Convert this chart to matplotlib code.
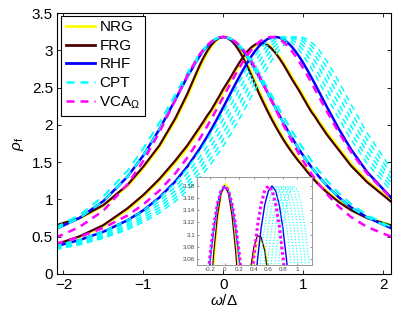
import matplotlib
matplotlib.use("Agg")
import matplotlib.pyplot as plt
from matplotlib.lines import Line2D
import numpy as np

plt.rcParams['font.family'] = ['Liberation Sans', 'DejaVu Sans']
plt.rcParams['mathtext.fontset'] = 'custom'
plt.rcParams['mathtext.rm'] = 'Liberation Sans'
plt.rcParams['mathtext.it'] = 'Liberation Sans:italic'

# ---------------- data ----------------
omega = [-2.1, -1.8, -1.5, -1.2, -1.0, -0.8, -0.6, -0.45, -0.3, -0.25, -0.2, -0.15,
         -0.1, -0.05, 0.0, 0.05, 0.1, 0.15, 0.2, 0.25, 0.3, 0.35, 0.4, 0.45, 0.5,
         0.55, 0.6, 0.65, 0.7, 0.75, 0.8, 0.85, 0.9, 0.95, 1.0, 1.05, 1.1, 1.15,
         1.2, 1.3, 1.45, 1.6, 1.8, 2.1]

nrg_a = [0.644, 0.743, 0.913, 1.177, 1.421, 1.699, 2.058, 2.380, 2.755, 2.867, 2.967, 3.051,
         3.119, 3.164, 3.184, 3.179, 3.149, 3.093, 3.019, 2.927, 2.821, 2.705, 2.581, 2.452,
         2.337, 2.225, 2.118, 2.018, 1.922, 1.832, 1.747, 1.667, 1.593, 1.524, 1.461, 1.393,
         1.327, 1.266, 1.209, 1.106, 0.974, 0.865, 0.757, 0.656]
nrg_b = [0.387, 0.494, 0.643, 0.860, 1.041, 1.250, 1.491, 1.695, 1.929, 2.010, 2.092, 2.171,
         2.256, 2.348, 2.442, 2.531, 2.617, 2.708, 2.798, 2.882, 2.955, 3.017, 3.063, 3.085,
         3.090, 3.080, 3.040, 2.986, 2.918, 2.840, 2.753, 2.661, 2.571, 2.486, 2.395, 2.301,
         2.210, 2.130, 2.050, 1.896, 1.685, 1.478, 1.254, 0.987]
frg_a = [0.650, 0.750, 0.924, 1.193, 1.441, 1.723, 2.088, 2.416, 2.788, 2.897, 2.993, 3.072,
         3.131, 3.168, 3.180, 3.168, 3.131, 3.072, 2.993, 2.897, 2.788, 2.669, 2.544, 2.416,
         2.303, 2.193, 2.088, 1.989, 1.895, 1.806, 1.723, 1.645, 1.572, 1.504, 1.441, 1.373,
         1.309, 1.249, 1.193, 1.092, 0.962, 0.855, 0.750, 0.650]
frg_b = [0.394, 0.504, 0.655, 0.879, 1.060, 1.273, 1.521, 1.724, 1.961, 2.042, 2.126, 2.201,
         2.292, 2.385, 2.480, 2.565, 2.652, 2.745, 2.833, 2.914, 2.983, 3.040, 3.079, 3.098,
         3.096, 3.073, 3.029, 2.970, 2.897, 2.815, 2.725, 2.631, 2.544, 2.459, 2.364, 2.271,
         2.180, 2.106, 2.022, 1.865, 1.657, 1.451, 1.232, 0.970]
rhf_a = [0.600, 0.750, 0.978, 1.303, 1.590, 1.939, 2.338, 2.644, 2.917, 2.993, 3.058, 3.110,
         3.149, 3.172, 3.180, 3.172, 3.149, 3.110, 3.058, 2.993, 2.917, 2.833, 2.741, 2.644,
         2.544, 2.442, 2.338, 2.236, 2.134, 2.035, 1.939, 1.846, 1.757, 1.671, 1.590, 1.512,
         1.439, 1.369, 1.303, 1.182, 1.025, 0.893, 0.760, 0.615]
rhf_b = [0.371, 0.454, 0.566, 0.719, 0.854, 1.025, 1.241, 1.439, 1.671, 1.757, 1.846, 1.939,
         2.035, 2.134, 2.236, 2.338, 2.442, 2.544, 2.644, 2.741, 2.833, 2.917, 2.993, 3.058,
         3.110, 3.149, 3.172, 3.180, 3.172, 3.149, 3.110, 3.058, 2.993, 2.917, 2.833, 2.741,
         2.644, 2.544, 2.442, 2.236, 1.939, 1.671, 1.369, 1.025]
cpt_a1 = [0.600, 0.750, 0.978, 1.303, 1.590, 1.939, 2.338, 2.644, 2.917, 2.993, 3.058, 3.110,
          3.149, 3.172, 3.180, 3.172, 3.149, 3.110, 3.058, 2.993, 2.917, 2.833, 2.741, 2.644,
          2.544, 2.442, 2.338, 2.236, 2.134, 2.035, 1.939, 1.846, 1.757, 1.671, 1.590, 1.512,
          1.439, 1.369, 1.303, 1.182, 1.025, 0.893, 0.760, 0.615]
cpt_a2 = [0.620, 0.790, 1.040, 1.380, 1.683, 2.026, 2.408, 2.694, 2.944, 3.012, 3.071, 3.118,
          3.152, 3.173, 3.180, 3.173, 3.152, 3.118, 3.071, 3.012, 2.944, 2.867, 2.784, 2.694,
          2.601, 2.506, 2.408, 2.311, 2.214, 2.119, 2.026, 1.935, 1.848, 1.764, 1.683, 1.600,
          1.525, 1.450, 1.380, 1.250, 1.080, 0.940, 0.790, 0.630]
cpt_b1 = [0.379, 0.461, 0.572, 0.722, 0.854, 1.019, 1.226, 1.415, 1.637, 1.718, 1.803, 1.892,
          1.984, 2.078, 2.175, 2.274, 2.374, 2.474, 2.574, 2.670, 2.763, 2.851, 2.931, 3.003,
          3.064, 3.114, 3.150, 3.173, 3.180, 3.173, 3.150, 3.114, 3.064, 3.003, 2.931, 2.851,
          2.763, 2.670, 2.574, 2.374, 2.078, 1.803, 1.486, 1.117]
cpt_b2 = [0.367, 0.446, 0.551, 0.694, 0.818, 0.974, 1.170, 1.349, 1.560, 1.637, 1.718, 1.803,
          1.892, 1.984, 2.078, 2.175, 2.274, 2.374, 2.474, 2.574, 2.670, 2.763, 2.851, 2.931,
          3.003, 3.064, 3.114, 3.150, 3.173, 3.180, 3.173, 3.150, 3.114, 3.064, 3.003, 2.931,
          2.851, 2.763, 2.670, 2.474, 2.175, 1.892, 1.560, 1.170]
cpt_b3 = [0.356, 0.431, 0.531, 0.667, 0.784, 0.932, 1.117, 1.286, 1.486, 1.560, 1.637, 1.718,
          1.803, 1.892, 1.984, 2.078, 2.175, 2.274, 2.374, 2.474, 2.574, 2.670, 2.763, 2.851,
          2.931, 3.003, 3.064, 3.114, 3.150, 3.173, 3.180, 3.173, 3.150, 3.114, 3.064, 3.003,
          2.931, 2.851, 2.763, 2.574, 2.274, 1.984, 1.637, 1.226]
cpt_b4 = [0.346, 0.417, 0.512, 0.641, 0.752, 0.892, 1.066, 1.226, 1.415, 1.486, 1.560, 1.637,
          1.718, 1.803, 1.892, 1.984, 2.078, 2.175, 2.274, 2.374, 2.474, 2.574, 2.670, 2.763,
          2.851, 2.931, 3.003, 3.064, 3.114, 3.150, 3.173, 3.180, 3.173, 3.150, 3.114, 3.064,
          3.003, 2.931, 2.851, 2.670, 2.374, 2.078, 1.718, 1.286]
cpt_b5 = [0.335, 0.404, 0.495, 0.617, 0.722, 0.854, 1.019, 1.170, 1.349, 1.415, 1.486, 1.560,
          1.637, 1.718, 1.803, 1.892, 1.984, 2.078, 2.175, 2.274, 2.374, 2.474, 2.574, 2.670,
          2.763, 2.851, 2.931, 3.003, 3.064, 3.114, 3.150, 3.173, 3.180, 3.173, 3.150, 3.114,
          3.064, 3.003, 2.931, 2.763, 2.474, 2.175, 1.803, 1.349]
cpt_b6 = [0.326, 0.391, 0.478, 0.594, 0.694, 0.818, 0.974, 1.117, 1.286, 1.349, 1.415, 1.486,
          1.560, 1.637, 1.718, 1.803, 1.892, 1.984, 2.078, 2.175, 2.274, 2.374, 2.474, 2.574,
          2.670, 2.763, 2.851, 2.931, 3.003, 3.064, 3.114, 3.150, 3.173, 3.180, 3.173, 3.150,
          3.114, 3.064, 3.003, 2.851, 2.574, 2.274, 1.892, 1.415]
vca_a = [0.484, 0.630, 0.849, 1.201, 1.517, 1.901, 2.332, 2.662, 2.940, 3.009, 3.069, 3.116,
         3.151, 3.173, 3.180, 3.173, 3.151, 3.116, 3.069, 3.009, 2.940, 2.856, 2.763, 2.662,
         2.554, 2.442, 2.332, 2.222, 2.113, 2.005, 1.901, 1.799, 1.701, 1.607, 1.517, 1.431,
         1.350, 1.274, 1.201, 1.069, 0.899, 0.764, 0.630, 0.500]
vca_b = [0.404, 0.495, 0.617, 0.784, 0.932, 1.117, 1.349, 1.560, 1.803, 1.892, 1.984, 2.078,
         2.175, 2.274, 2.374, 2.474, 2.574, 2.670, 2.763, 2.851, 2.931, 3.003, 3.064, 3.114,
         3.150, 3.173, 3.180, 3.173, 3.150, 3.114, 3.064, 3.003, 2.931, 2.851, 2.763, 2.670,
         2.574, 2.474, 2.374, 2.175, 1.892, 1.637, 1.349, 1.019]

labels = ['NRG', 'FRG', 'RHF', 'CPT', r'VCA$_\Omega$']
x_ticks = [-2, -1, 0, 1, 2]
y_ticks = [0, 0.5, 1, 1.5, 2, 2.5, 3, 3.5]
y_ticklabels = ['0', '0.5', '1', '1.5', '2', '2.5', '3', '3.5']
inset_xticks = [-0.2, 0, 0.2, 0.4, 0.6, 0.8, 1]
inset_xticklabels = ['-0.2', '0', '0.2', '0.4', '0.6', '0.8', '1']
inset_yticks = [3.06, 3.08, 3.10, 3.12, 3.14, 3.16, 3.18]
inset_yticklabels = ['3.06', '3.08', '3.1', '3.12', '3.14', '3.16', '3.18']

# ---------------- styles ----------------
c_nrg = '#ffff00'
c_frg = '#4a0000'
c_rhf = '#0000ff'
c_cpt = '#00ffff'
c_vca = '#ff00ff'
dash_cpt = (0, (4.0, 3.0))
dash_vca = (0, (3.2, 2.4))

fig = plt.figure(figsize=(3.99, 3.12), dpi=100)
ax = fig.add_axes([0.143, 0.122, 0.837, 0.836])

groups = [
    ([nrg_a, nrg_b], dict(color=c_nrg, lw=1.9, ls='-')),
    ([frg_a, frg_b], dict(color=c_frg, lw=1.6, ls='-')),
    ([rhf_a, rhf_b], dict(color=c_rhf, lw=1.8, ls='-')),
    ([cpt_a1, cpt_a2], dict(color=c_cpt, lw=1.5, ls=dash_cpt)),
    ([cpt_b1, cpt_b2, cpt_b3, cpt_b4, cpt_b5, cpt_b6],
     dict(color=c_cpt, lw=1.1, ls=dash_cpt)),
    ([vca_a, vca_b], dict(color=c_vca, lw=1.8, ls=dash_vca)),
]
for series, st in groups:
    for s in series:
        ax.plot(omega, s, **st)

ax.set_xlim(-2.08, 2.1)
ax.set_ylim(0, 3.5)
ax.set_xticks(x_ticks)
ax.set_xticklabels(['\u22122', '\u22121', '0', '1', '2'])
ax.set_yticks(y_ticks)
ax.set_yticklabels(y_ticklabels)
ax.tick_params(direction='in', top=True, right=True, labelsize=11, length=3, width=0.6, pad=3)
for sp in ax.spines.values():
    sp.set_linewidth(0.8)
ax.set_xlabel(r'$\omega/\Delta$', fontsize=11, labelpad=1)
ax.set_ylabel(r'$\rho_{\rm f}$', fontsize=11, labelpad=4)

handles = [
    Line2D([], [], color=c_nrg, lw=2.0),
    Line2D([], [], color=c_frg, lw=2.0),
    Line2D([], [], color=c_rhf, lw=2.0),
    Line2D([], [], color=c_cpt, lw=1.8, ls=dash_vca),
    Line2D([], [], color=c_vca, lw=1.8, ls=dash_vca),
]
leg = ax.legend(handles, labels, loc='upper left', bbox_to_anchor=(0.012, 0.99),
                borderaxespad=0, fancybox=False, edgecolor='black', framealpha=1,
                fontsize=11, handlelength=1.9, handletextpad=0.3, labelspacing=0.3,
                borderpad=0.3)
leg.get_frame().set_linewidth(0.8)

# ---------------- inset ----------------
ins = fig.add_axes([0.494, 0.151, 0.288, 0.282])
ins_groups = [
    ([nrg_a, nrg_b], dict(color=c_nrg, lw=1.0, ls='-')),
    ([frg_a, frg_b], dict(color=c_frg, lw=0.9, ls='-')),
    ([rhf_a, rhf_b], dict(color=c_rhf, lw=1.0, ls='-')),
    ([cpt_a1, cpt_a2, cpt_b1, cpt_b2, cpt_b3, cpt_b4, cpt_b5, cpt_b6],
     dict(color=c_cpt, lw=0.8, ls=(0, (1.0, 1.6)))),
    ([vca_a, vca_b], dict(color=c_vca, lw=2.2, ls=(0, (0.9, 0.9)))),
]
for series, st in ins_groups:
    for s in series:
        ins.plot(omega, s, **st)
ins.set_xlim(-0.38, 1.2)
ins.set_ylim(3.05, 3.195)
ins.set_xticks(inset_xticks)
ins.set_xticklabels(inset_xticklabels)
ins.set_yticks(inset_yticks)
ins.set_yticklabels(inset_yticklabels)
ins.tick_params(direction='in', top=True, right=True, labelsize=4.5, length=1.5,
                width=0.4, pad=1.5, colors='#444444')
for sp in ins.spines.values():
    sp.set_linewidth(0.6)
    sp.set_edgecolor('#888888')

fig.savefig('out.png', dpi=100)
